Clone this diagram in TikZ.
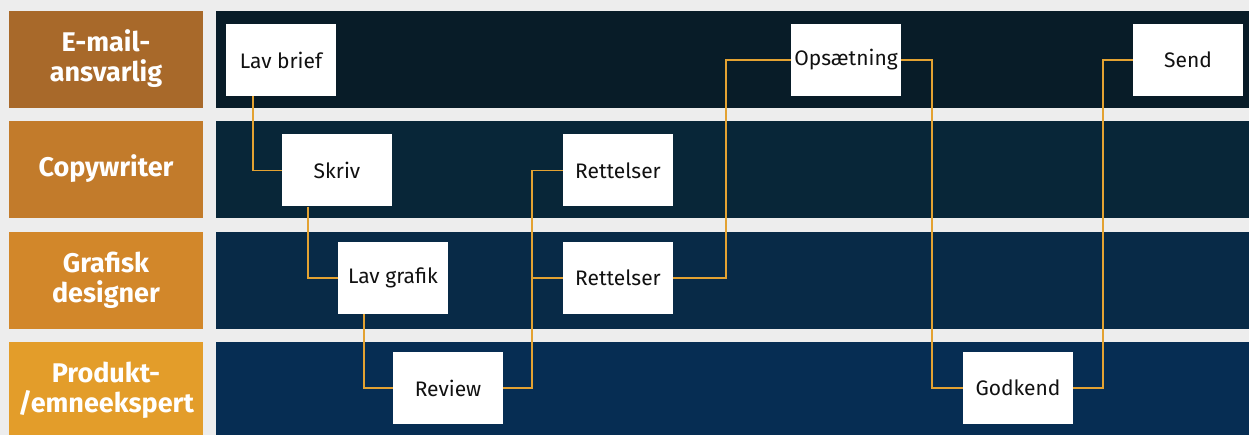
\documentclass[tikz,border=0pt]{standalone}
\usepackage{fontspec}
\setmainfont{Fira Sans}
\usepackage{tikz}
\usepackage{xcolor}
\definecolor{bgc}{HTML}{EDEDED}
\definecolor{labela}{HTML}{A8692A}
\definecolor{labelb}{HTML}{C27B2B}
\definecolor{labelc}{HTML}{D2872A}
\definecolor{labeld}{HTML}{E39D2A}
\definecolor{lanea}{HTML}{081C28}
\definecolor{laneb}{HTML}{082638}
\definecolor{lanec}{HTML}{082A47}
\definecolor{laned}{HTML}{062D53}
\definecolor{flowc}{HTML}{E3A232}
\definecolor{taskc}{HTML}{111111}
\tikzset{
  lanelabel/.style={text=white, font=\bfseries\fontsize{27}{30}\selectfont, align=center},
  task/.style={fill=white, minimum width=110pt, minimum height=72pt, inner sep=0pt, text=taskc, font=\fontsize{21}{24}\selectfont},
  flow/.style={draw=flowc, line width=1.6pt},
}

\begin{document}
\begin{tikzpicture}[x=1pt,y=-1pt]
\useasboundingbox (0,0) rectangle (1249,435);
\fill[bgc] (0,0) rectangle (1249,435);
% lanes
\fill[labela] (9,11) rectangle (203,108);
\fill[labelb] (9,121) rectangle (203,218);
\fill[labelc] (9,232) rectangle (203,329);
\fill[labeld] (9,342) rectangle (203,435);
\fill[lanea] (216,11) rectangle (1249,108);
\fill[laneb] (216,121) rectangle (1249,218);
\fill[lanec] (216,232) rectangle (1249,329);
\fill[laned] (216,342) rectangle (1249,435);
\node[lanelabel] (mail) at (106,59) {E-mail-\\ansvarlig};
\node[lanelabel] (copy) at (106,169) {Copywriter};
\node[lanelabel] (design) at (106,280) {Grafisk\\designer};
\node[lanelabel] (expert) at (106,390) {Produkt-\\/emneekspert};
% tasks
\node[task] (brief) at (281,60) {Lav brief};
\node[task] (skriv) at (337,170.5) {Skriv};
\node[task] (grafik) at (393,278) {Lav grafik};
\node[task] (review) at (448,388) {Review};
\node[task] (ret1) at (618,170.5) {Rettelser};
\node[task] (ret2) at (618,278) {Rettelser};
\node[task] (ops) at (846,60) {Opsætning};
\node[task] (godk) at (1018,388) {Godkend};
\node[task] (send) at (1188,60) {Send};
% flow
\draw[flow] ([xshift=27pt]brief.south west) |- (skriv.west);
\draw[flow] ([xshift=26pt]skriv.south west) |- (grafik.west);
\draw[flow] ([xshift=26pt]grafik.south west) |- (review.west);
\coordinate (split) at ([xshift=29pt]review.east);
\draw[flow] (review.east) -- (split) |- (ret1.west);
\draw[flow] (split) |- (ret2.west);
\draw[flow] (ret2.east) -- ++(53,0) |- (ops.west);
\draw[flow] (ops.east) -- ++(31,0) |- (godk.west);
\draw[flow] (godk.east) -- ++(30,0) |- (send.west);
\end{tikzpicture}
\end{document}
